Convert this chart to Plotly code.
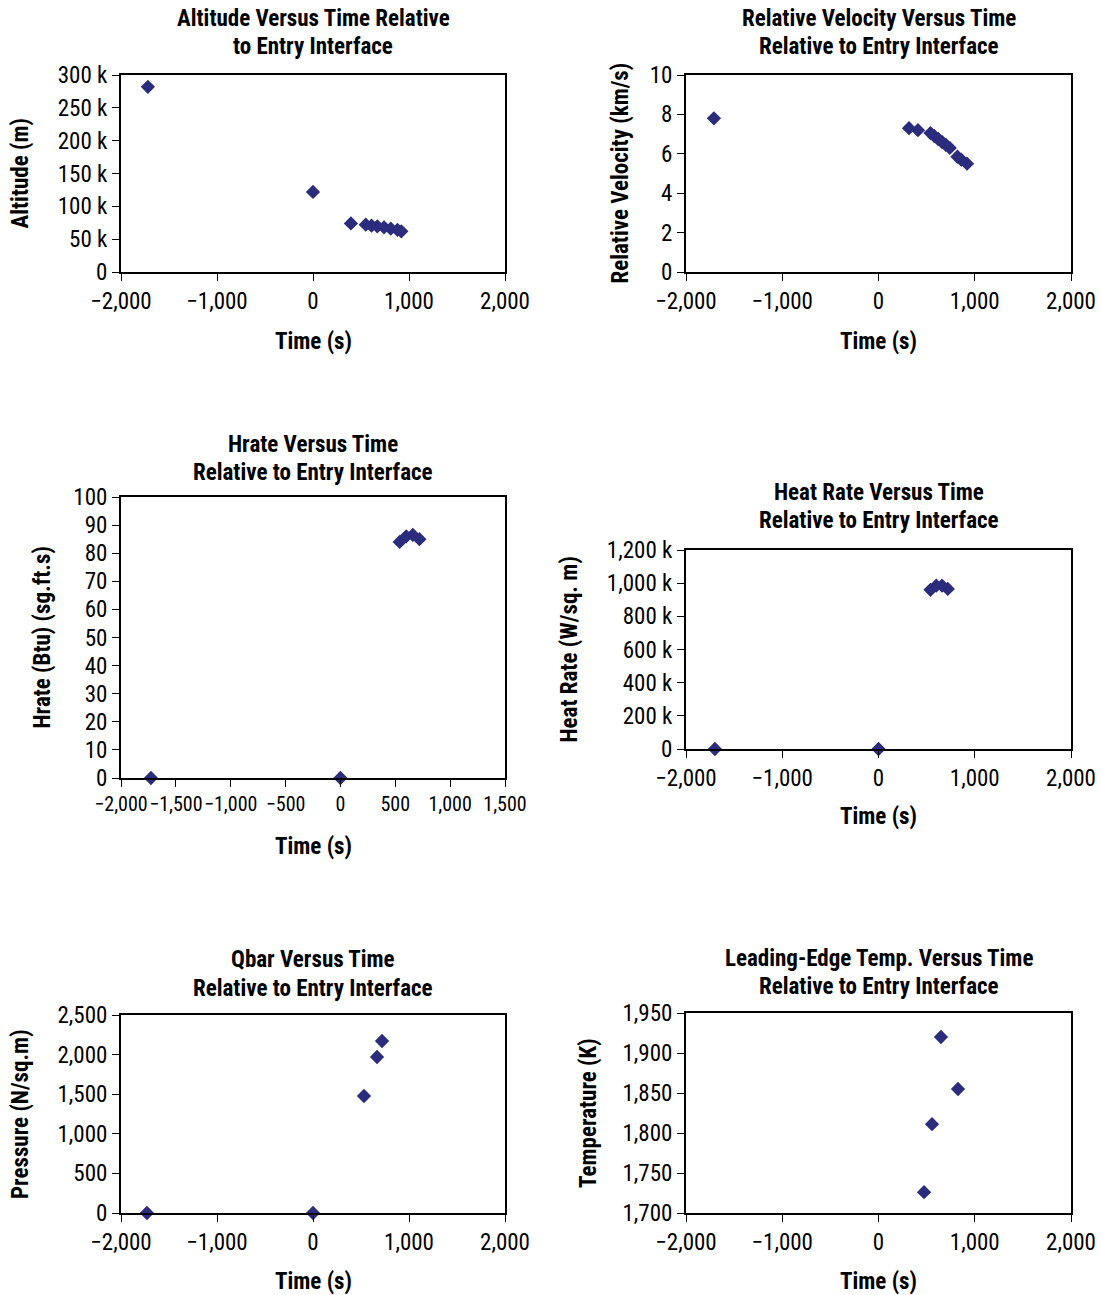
import plotly.graph_objects as go

# ---- data ----
alt_time = [-1720, 0, 395, 550, 610, 670, 740, 810, 880, 920]
alt_m = [282000, 122000, 74000, 72000, 70500, 69500, 68000, 66000, 64000, 62000]

vel_time = [-1710, 317, 410, 540, 580, 620, 660, 700, 740, 820, 860, 920]
vel_kms = [7.8, 7.3, 7.2, 7.05, 6.9, 6.75, 6.6, 6.45, 6.3, 5.85, 5.7, 5.5]

hrate_time = [-1727, 0, 540, 600, 660, 720]
hrate_btu = [0, 0, 84, 86, 86.5, 85]

heat_time = [-1700, 0, 540, 600, 660, 720]
heat_wm2 = [0, 0, 960000, 985000, 985000, 965000]

qbar_time = [-1730, 0, 531, 667, 719]
qbar_nm2 = [0, 0, 1477, 1970, 2172]

temp_time = [649, 826, 556, 473]
temp_k = [1920, 1855, 1811, 1726]

time_ticks = [-2000, -1000, 0, 1000, 2000]
time_text = ["\u22122,000", "\u22121,000", "0", "1,000", "2,000"]
time_ticks3 = [-2000, -1500, -1000, -500, 0, 500, 1000, 1500]
time_text3 = ["\u22122,000", "\u22121,500", "\u22121,000", "\u2212500", "0", "500", "1,000", "1,500"]

alt_ticks = [0, 50000, 100000, 150000, 200000, 250000, 300000]
alt_text = ["0", "50 k", "100 k", "150 k", "200 k", "250 k", "300 k"]
vel_ticks = [0, 2, 4, 6, 8, 10]
hrate_ticks = list(range(0, 101, 10))
heat_ticks = [0, 200000, 400000, 600000, 800000, 1000000, 1200000]
heat_text = ["0", "200 k", "400 k", "600 k", "800 k", "1,000 k", "1,200 k"]
qbar_ticks = [0, 500, 1000, 1500, 2000, 2500]
qbar_text = ["0", "500", "1,000", "1,500", "2,000", "2,500"]
temp_ticks = [1700, 1750, 1800, 1850, 1900, 1950]
temp_text = ["1,700", "1,750", "1,800", "1,850", "1,900", "1,950"]

W, H = 1101, 1295
FONT = "Liberation Sans Narrow, Arial Narrow, Roboto Condensed, Liberation Sans, sans-serif"
NAVY = "#2b2c7c"
FS = 23

def px(x):
    return x / W

def py(y):
    return 1 - y / H

panels = [
    (alt_time, alt_m, (121, 505), (75, 272), [-2000, 2000], time_ticks, time_text, FS,
     [0, 300000], alt_ticks, alt_text,
     ["Altitude Versus Time Relative", "to Entry Interface"], "Altitude (m)", 20, (18, 47), 341),
    (vel_time, vel_kms, (686, 1071), (75, 272), [-2000, 2000], time_ticks, time_text, FS,
     [0, 10], vel_ticks, [str(v) for v in vel_ticks],
     ["Relative Velocity Versus Time", "Relative to Entry Interface"], "Relative Velocity (km/s)", 620, (18, 47), 341),
    (hrate_time, hrate_btu, (121, 505), (497, 778), [-2000, 1500], time_ticks3, time_text3, 20,
     [0, 100], hrate_ticks, [str(v) for v in hrate_ticks],
     ["Hrate Versus Time", "Relative to Entry Interface"], "Hrate (Btu) (sg.ft.s)", 42, (444, 472), 846),
    (heat_time, heat_wm2, (686, 1071), (550, 749), [-2000, 2000], time_ticks, time_text, FS,
     [0, 1200000], heat_ticks, heat_text,
     ["Heat Rate Versus Time", "Relative to Entry Interface"], "Heat Rate (W/sq. m)", 569, (493, 521), 816),
    (qbar_time, qbar_nm2, (121, 505), (1015, 1213), [-2000, 2000], time_ticks, time_text, FS,
     [0, 2500], qbar_ticks, qbar_text,
     ["Qbar Versus Time", "Relative to Entry Interface"], "Pressure (N/sq.m)", 20, (959, 988), 1281),
    (temp_time, temp_k, (686, 1071), (1013, 1213), [-2000, 2000], time_ticks, time_text, FS,
     [1700, 1950], temp_ticks, temp_text,
     ["Leading-Edge Temp. Versus Time", "Relative to Entry Interface"], "Temperature (K)", 588, (958, 986), 1281),
]

fig = go.Figure()
layout = dict(
    width=W, height=H, margin=dict(l=0, r=0, t=0, b=0, autoexpand=False),
    paper_bgcolor="white", plot_bgcolor="white", showlegend=False,
    font=dict(family=FONT, size=FS, color="black"),
)
annotations = []

for i, (xs, ys, xb, yb, xr, xt, xtt, xfs, yr, yt, ytt, title, ytitle, ytx, tys, xty) in enumerate(panels):
    n = "" if i == 0 else str(i + 1)
    fig.add_trace(go.Scatter(
        x=xs, y=ys, mode="markers", xaxis="x" + n, yaxis="y" + n,
        marker=dict(symbol="diamond", size=11, color=NAVY),
        cliponaxis=False,
    ))
    axis_common = dict(showgrid=False, zeroline=False, showline=True, mirror=True,
                       linecolor="black", linewidth=2, ticks="outside", ticklen=7,
                       tickcolor="black", tickwidth=1, automargin=False, tickangle=0)
    layout["xaxis" + n] = dict(domain=[px(xb[0]), px(xb[1])], range=xr, tickvals=xt, ticktext=xtt,
                               anchor="y" + n, tickfont=dict(size=xfs, family=FONT), **axis_common)
    layout["yaxis" + n] = dict(domain=[py(yb[1]), py(yb[0])], range=yr, tickvals=yt, ticktext=ytt,
                               anchor="x" + n, tickfont=dict(size=FS, family=FONT), **axis_common)
    cx = px((xb[0] + xb[1]) / 2)
    for line, ty in zip(title, tys):
        annotations.append(dict(text="<b>" + line + "</b>", x=cx, y=py(ty), xref="paper", yref="paper",
                                showarrow=False, xanchor="center", yanchor="middle",
                                font=dict(size=FS, family=FONT)))
    annotations.append(dict(text="<b>Time (s)</b>", x=cx, y=py(xty), xref="paper", yref="paper",
                            showarrow=False, xanchor="center", yanchor="middle",
                            font=dict(size=FS, family=FONT)))
    annotations.append(dict(text="<b>" + ytitle + "</b>", x=px(ytx), y=py((yb[0] + yb[1]) / 2),
                            xref="paper", yref="paper", showarrow=False, textangle=-90,
                            xanchor="center", yanchor="middle", font=dict(size=FS, family=FONT)))

layout["annotations"] = annotations
fig.update_layout(**layout)
fig.write_html("out.html", config={"displayModeBar": False},
               post_script="document.body.style.margin='0px';document.body.style.overflow='hidden';")
